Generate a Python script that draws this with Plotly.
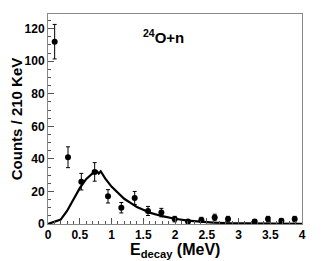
import plotly.graph_objects as go

# Data points (bin centres, counts per 210 keV bin, errors)
energy = [0.105, 0.315, 0.525, 0.735, 0.945, 1.155, 1.365, 1.575, 1.785, 1.995,
          2.205, 2.415, 2.625, 2.835, 3.255, 3.465, 3.675, 3.885]
counts = [112, 41, 26, 32, 17, 10, 16, 8, 7, 3,
          1.5, 2.5, 4, 3, 1.5, 3, 2, 3]
errors = [10.6, 6.4, 5.1, 5.7, 4.1, 3.2, 4.0, 2.8, 2.6, 1.7,
          1.2, 1.6, 2.0, 1.7, 1.2, 1.7, 1.4, 1.7]

# Simulated line shape
curve_e = [0, 0.1, 0.2, 0.3, 0.4, 0.5, 0.6, 0.7, 0.77, 0.8, 0.83, 0.9, 1.0, 1.1,
           1.2, 1.3, 1.4, 1.5, 1.6, 1.8, 2.0, 2.2, 2.4, 2.6, 2.8, 3.0, 3.5, 4.0]
curve_v = [0, 1.2, 2.7, 8, 15, 22, 27.5, 31, 32.4, 31, 32.4, 28, 23, 19,
           15.5, 13, 10.5, 8.7, 7, 4.8, 3.2, 2.1, 1.4, 0.9, 0.6, 0.4, 0.2, 0.1]

x_ticks = [0, 0.5, 1, 1.5, 2, 2.5, 3, 3.5, 4]
x_tick_text = ["0", "0.5", "1", "1.5", "2", "2.5", "3", "3.5", "4"]
y_ticks = [0, 20, 40, 60, 80, 100, 120]

FONT = "Liberation Sans, Arial, Helvetica, sans-serif"

fig = go.Figure()
fig.add_trace(go.Scatter(
    x=curve_e, y=curve_v, mode="lines",
    line=dict(color="black", width=2.2), hoverinfo="skip", showlegend=False))
fig.add_trace(go.Scatter(
    x=energy, y=counts, mode="markers",
    marker=dict(color="black", size=6),
    error_y=dict(type="data", array=errors, color="black", thickness=1, width=2),
    showlegend=False))

# the page body adds an 8px offset, so the figure is sized 324x253
fig.update_layout(
    width=324, height=253,
    margin=dict(l=40, r=30, t=6, b=37, autoexpand=False),
    paper_bgcolor="white", plot_bgcolor="white",
    font=dict(family=FONT, color="black"),
    xaxis=dict(
        range=[0, 4], tickvals=x_ticks, ticktext=x_tick_text, automargin=False,
        ticks="inside", ticklen=6, tickcolor="#555", tickwidth=1,
        minor=dict(dtick=0.1, ticks="inside", ticklen=3, tickcolor="#555"),
        showline=True, linecolor="#888", linewidth=1, mirror=True,
        showgrid=False, zeroline=False,
        tickfont=dict(size=12, weight="bold"),
    ),
    yaxis=dict(
        range=[0, 129], tickvals=y_ticks, automargin=False,
        ticks="inside", ticklen=6, tickcolor="#555", tickwidth=1,
        minor=dict(dtick=5, ticks="inside", ticklen=3, tickcolor="#555"),
        showline=True, linecolor="#888", linewidth=1, mirror=True,
        showgrid=False, zeroline=False,
        tickfont=dict(size=12, weight="bold"),
        title=dict(text="Counts / 210 KeV", font=dict(size=15, weight="bold"), standoff=2),
    ),
    annotations=[
        dict(text="<sup>24</sup>O+n", x=0.455, y=0.95, xref="paper", yref="paper",
             showarrow=False, font=dict(size=15, weight="bold", family=FONT)),
        dict(text="E<sub>decay</sub> (MeV)", x=0.5, y=0, xref="paper", yref="paper",
             xanchor="center", yanchor="top", yshift=-15, showarrow=False,
             font=dict(size=16, weight="bold", family=FONT)),
    ],
)

fig.write_html("out.html")
